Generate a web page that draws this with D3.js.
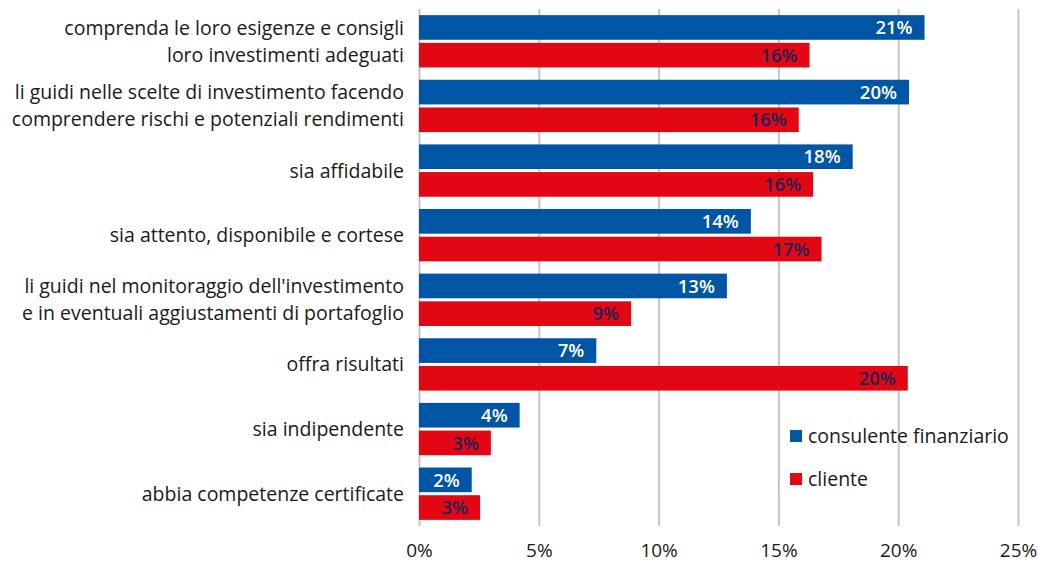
<!DOCTYPE html>
<html>
<head>
<meta charset="utf-8">
<script src="https://cdn.jsdelivr.net/npm/d3@7"></script>
<style>
  body { margin: 0; background: #fff; }
  text { font-family: "Open Sans", Lato, sans-serif; }
</style>
</head>
<body>
<script>
var w = 1038;
var h = 564;

// data
var categories = [
  "comprenda le loro esigenze e consigli\nloro investimenti adeguati",
  "li guidi nelle scelte di investimento facendo\ncomprendere rischi e potenziali rendimenti",
  "sia affidabile",
  "sia attento, disponibile e cortese",
  "li guidi nel monitoraggio dell'investimento\ne in eventuali aggiustamenti di portafoglio",
  "offra risultati",
  "sia indipendente",
  "abbia competenze certificate"
];
var series = ["consulente finanziario", "cliente"];
var consulente = [21.1, 20.45, 18.1, 13.85, 12.85, 7.4, 4.2, 2.2];
var cliente = [16.3, 15.85, 16.45, 16.8, 8.85, 20.4, 3.0, 2.55];
var xTicks = [0, 5, 10, 15, 20, 25];

var colors = { "consulente finanziario": "#0055a4", "cliente": "#e30613" };
var labelColors = { "consulente finanziario": "#ffffff", "cliente": "#1d2157" };

var svg = d3.select("body").append("svg")
  .attr("width", w)
  .attr("height", h);

var x = d3.scaleLinear().domain([0, 25]).range([419, 1018]);

var y0 = d3.scaleBand()
  .domain(categories)
  .range([9, 526])
  .paddingInner(0.19)
  .paddingOuter(0.095);

var y1 = d3.scaleBand()
  .domain(series)
  .range([0, y0.bandwidth()])
  .paddingInner(0.11);

// grid + axis
var xAxis = svg.append("g")
  .attr("transform", "translate(0,526)")
  .call(d3.axisBottom(x).tickValues(xTicks).tickFormat(function(d){ return d + "%"; })
        .tickSizeInner(-517).tickSizeOuter(0).tickPadding(18));
xAxis.select(".domain").remove();
xAxis.selectAll(".tick line").attr("stroke", "#c6c6c6").attr("stroke-width", 2);
xAxis.selectAll(".tick text")
  .attr("fill", "#1a1a1a")
  .style("font-size", "19px")
  .style("font-family", "'Open Sans', sans-serif");

// bars
var rows = categories.map(function(c, i) {
  return { cat: c, vals: [
    { s: series[0], v: consulente[i] },
    { s: series[1], v: cliente[i] }
  ]};
});

var groups = svg.selectAll(".grp")
  .data(rows)
  .enter()
  .append("g")
  .attr("class", "grp")
  .attr("transform", function(d){ return "translate(0," + y0(d.cat) + ")"; });

groups.selectAll("rect")
  .data(function(d){ return d.vals; })
  .enter()
  .append("rect")
  .attr("x", x(0))
  .attr("y", function(d){ return y1(d.s); })
  .attr("width", function(d){ return x(d.v) - x(0); })
  .attr("height", y1.bandwidth())
  .attr("fill", function(d){ return colors[d.s]; });

groups.selectAll(".val")
  .data(function(d){ return d.vals; })
  .enter()
  .append("text")
  .attr("class", "val")
  .attr("x", function(d){ return x(d.v) - 12; })
  .attr("y", function(d){ return y1(d.s) + y1.bandwidth() / 2; })
  .attr("dy", "0.36em")
  .attr("text-anchor", "end")
  .attr("fill", function(d){ return labelColors[d.s]; })
  .style("font-size", "18.5px")
  .style("font-weight", "600")
  .text(function(d){ return Math.round(d.v) + "%"; });

// category labels
var catLabels = svg.selectAll(".cat")
  .data(categories)
  .enter()
  .append("text")
  .attr("class", "cat")
  .attr("text-anchor", "end")
  .attr("fill", "#1a1a1a")
  .style("font-size", "19.5px")
  .attr("transform", function(d){ return "translate(404," + (y0(d) + y0.bandwidth() / 2) + ")"; });

catLabels.each(function(d) {
  var lines = d.split("\n");
  var t = d3.select(this);
  lines.forEach(function(l, i) {
    t.append("tspan")
      .attr("x", 0)
      .attr("y", (i - (lines.length - 1) / 2) * 27)
      .attr("dy", "0.36em")
      .text(l);
  });
});

// legend
var legend = svg.selectAll(".leg")
  .data(series)
  .enter()
  .append("g")
  .attr("class", "leg")
  .attr("transform", function(d, i){ return "translate(790," + (436 + i * 43) + ")"; });

legend.append("rect")
  .attr("x", 0)
  .attr("y", -6)
  .attr("width", 12)
  .attr("height", 12)
  .attr("fill", function(d){ return colors[d]; });

legend.append("text")
  .attr("x", 18)
  .attr("y", 0)
  .attr("dy", "0.36em")
  .attr("fill", "#1a1a1a")
  .style("font-size", "19.5px")
  .text(function(d){ return d; });
</script>
</body>
</html>
